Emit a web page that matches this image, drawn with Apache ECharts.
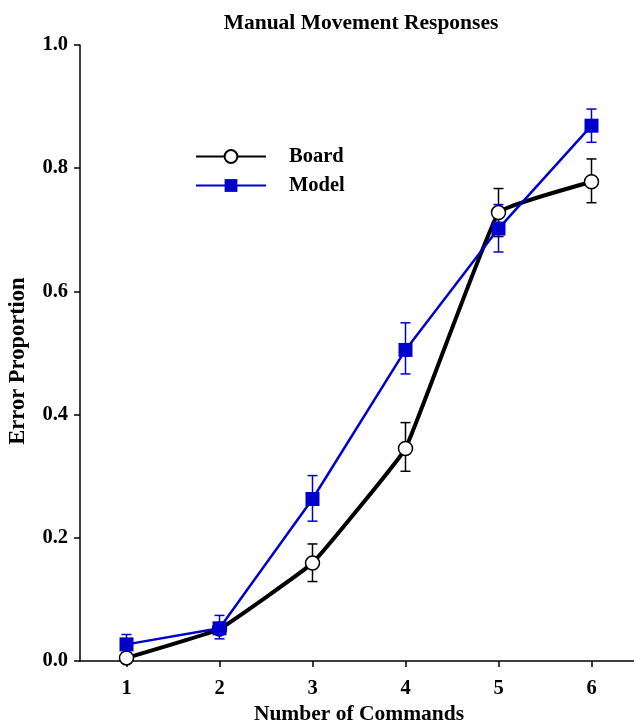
<!DOCTYPE html>
<html><head><meta charset="utf-8">
<script src="https://cdn.jsdelivr.net/npm/echarts@6/dist/echarts.min.js"></script>
<style>html,body{margin:0;padding:0;background:#fff}#c{width:634px;height:724px}</style>
</head><body><div id="c"></div>
<script>
var commands = [1, 2, 3, 4, 5, 6];
var boardMean = [0.005, 0.052, 0.159, 0.345, 0.728, 0.778];
var boardUpper = [0.005, 0.052, 0.190, 0.387, 0.767, 0.815];
var boardLower = [0.005, 0.052, 0.129, 0.308, 0.689, 0.744];
var modelMean = [0.027, 0.053, 0.263, 0.505, 0.702, 0.869];
var modelUpper = [0.043, 0.074, 0.301, 0.549, 0.741, 0.896];
var modelLower = [0.011, 0.036, 0.227, 0.466, 0.664, 0.842];
var yTicks = ['0.0', '0.2', '0.4', '0.6', '0.8', '1.0'];

var FONT = '"Liberation Serif", "Times New Roman", serif';
var BLUE = '#0000cc';

function pairs(xs, ys) { return xs.map(function (x, i) { return [x, ys[i]]; }); }
function errData(lo, hi) { return commands.map(function (x, i) { return [x, lo[i], hi[i]]; }); }
function errRender(color) {
  return function (params, api) {
    var x = api.value(0);
    var p1 = api.coord([x, api.value(1)]);
    var p2 = api.coord([x, api.value(2)]);
    var w = 5;
    var st = { stroke: color, lineWidth: 1.5 };
    return { type: 'group', children: [
      { type: 'line', shape: { x1: p1[0], y1: p1[1], x2: p2[0], y2: p2[1] }, style: st },
      { type: 'line', shape: { x1: p1[0] - w, y1: p1[1], x2: p1[0] + w, y2: p1[1] }, style: st },
      { type: 'line', shape: { x1: p2[0] - w, y1: p2[1], x2: p2[0] + w, y2: p2[1] }, style: st }
    ]};
  };
}

var chart = echarts.init(document.getElementById('c'), null, { renderer: 'canvas' });
chart.setOption({
  animation: false,
  backgroundColor: '#fff',
  title: { text: 'Manual Movement Responses', left: 356, textAlign: 'center', top: 7,
    textStyle: { fontFamily: FONT, fontSize: 21.5, fontWeight: 'bold', color: '#000' } },
  grid: { left: 80, right: -4, top: 45, bottom: 63, containLabel: false, outerBoundsMode: 'none' },
  legend: {
    left: 195, top: 146, padding: 0, orient: 'vertical', itemGap: 8, itemWidth: 70, itemHeight: 16,
    data: ['Board', 'Model'],
    textStyle: { fontFamily: FONT, fontSize: 20.5, fontWeight: 'bold', color: '#000', padding: [0, 0, 0, 18] }
  },
  xAxis: {
    type: 'value', min: 0.5, max: 6.5,
    name: 'Number of Commands', nameLocation: 'middle', nameGap: 42,
    nameTextStyle: { fontFamily: FONT, fontSize: 21.5, fontWeight: 'bold', color: '#000' },
    axisLine: { lineStyle: { color: '#000', width: 1.5 } },
    axisTick: { inside: false, length: 6, lineStyle: { color: '#000', width: 1.5 }, customValues: commands },
    axisLabel: { fontFamily: FONT, fontSize: 20.5, fontWeight: 'bold', color: '#000', margin: 17,
      customValues: commands, formatter: function (v) { return String(v); } },
    splitLine: { show: false }
  },
  yAxis: {
    type: 'value', min: 0, max: 1, interval: 0.2,
    name: 'Error Proportion', nameLocation: 'middle', nameGap: 50, nameRotate: 90,
    nameTextStyle: { fontFamily: FONT, fontSize: 22.5, fontWeight: 'bold', color: '#000', padding: [0, 16, 0, 0] },
    axisLine: { show: true, lineStyle: { color: '#000', width: 1.5 } },
    axisTick: { show: true, length: 6, lineStyle: { color: '#000', width: 1.5 } },
    axisLabel: { fontFamily: FONT, fontSize: 20.5, fontWeight: 'bold', color: '#000', margin: 12,
      formatter: function (v) { return yTicks[Math.round(v / 0.2)]; } },
    splitLine: { show: false }
  },
  series: [
    { type: 'custom', name: 'BoardErr', data: errData(boardLower, boardUpper),
      renderItem: errRender('#000'), z: 1, encode: { x: 0, y: [1, 2] } },
    { type: 'custom', name: 'ModelErr', data: errData(modelLower, modelUpper),
      renderItem: errRender(BLUE), z: 1, encode: { x: 0, y: [1, 2] } },
    { type: 'line', name: 'Board', data: pairs(commands, boardMean), smooth: 0.08,
      lineStyle: { color: '#000', width: 4 }, itemStyle: { color: '#fff', borderColor: '#000', borderWidth: 1.5 },
      symbol: 'circle', symbolSize: 14, z: 3 },
    { type: 'line', name: 'Model', data: pairs(commands, modelMean),
      lineStyle: { color: BLUE, width: 2.5 }, itemStyle: { color: BLUE, borderColor: BLUE, borderWidth: 0 },
      symbol: 'rect', symbolSize: 14, z: 4 }
  ]
});
</script></body></html>
